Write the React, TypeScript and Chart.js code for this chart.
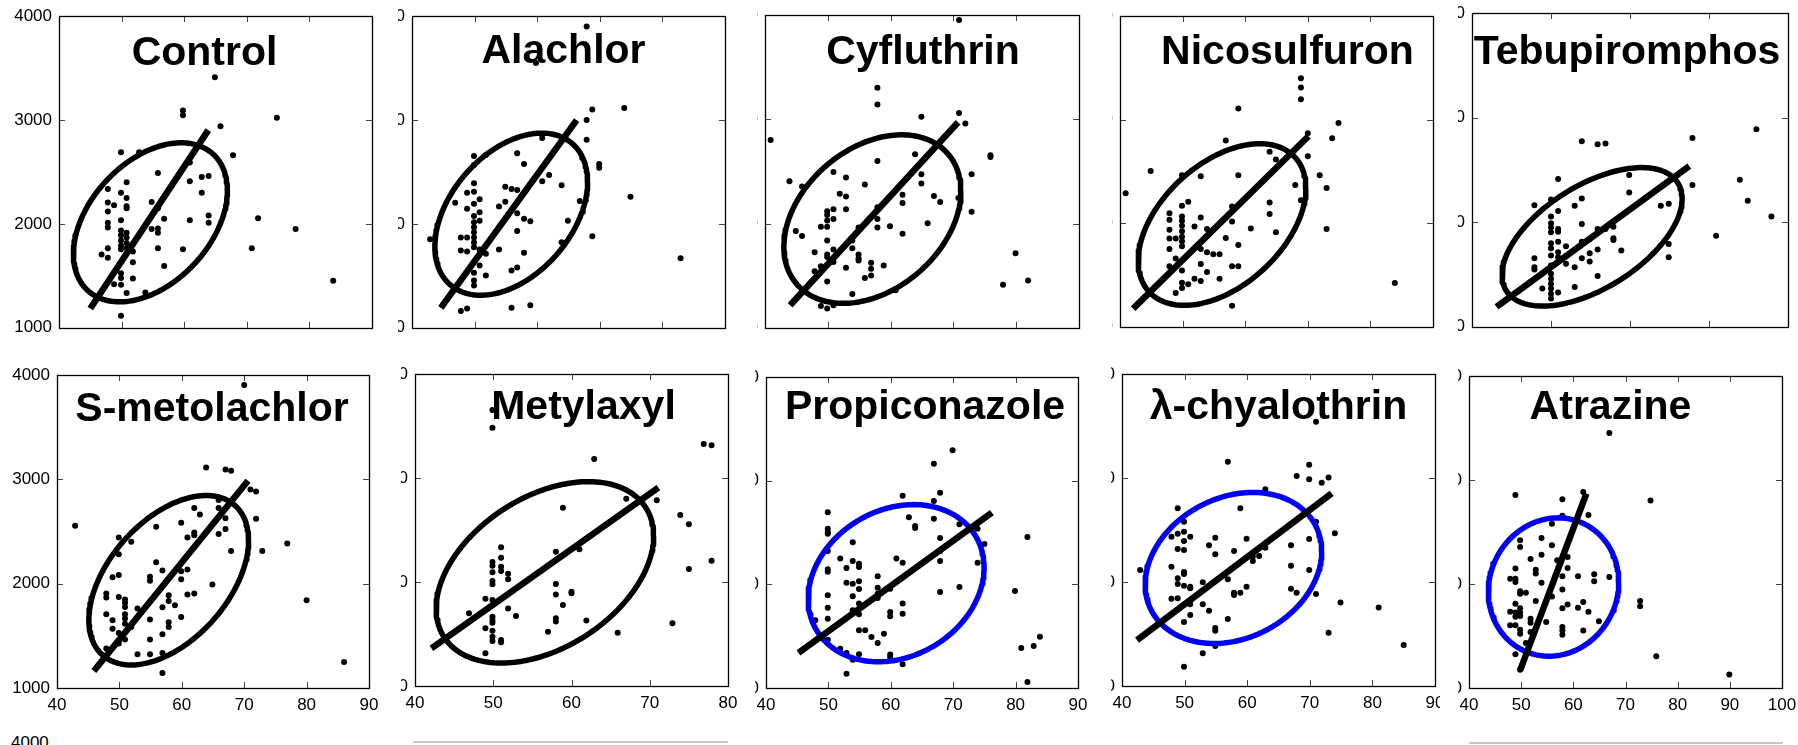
import React, { useEffect, useRef } from "react";
import { Chart, registerables } from "chart.js";
Chart.register(...registerables);

// ---------- data ----------
const titles = ["Control", "Alachlor", "Cyfluthrin", "Nicosulfuron", "Tebupiromphos", "S-metolachlor", "Metylaxyl", "Propiconazole", "\u03bb-chyalothrin", "Atrazine"];
const xMaxes = [90, 90, 90, 90, 80, 90, 80, 90, 90, 100];
const yMin = 1000;
const yMax = 4000;
const yStep = 1000;
const xMin = 40;
const xStep = 10;

const controlPts = [[64.9,3410],[59.8,3090],[59.8,3045],[65.8,2940],[74.8,3020],[49.9,2690],[52.8,2690],[67.8,2660],[60.9,2590],[55.8,2490],[62.8,2450],[63.9,2460],[60.9,2410],[50.8,2400],[47.8,2335],[62.8,2300],[49.9,2300],[50.8,2250],[47.8,2205],[48.8,2180],[54.8,2210],[50.8,2170],[50.8,2150],[55.8,2150],[47.8,2120],[63.9,2080],[56.8,2050],[60.9,2035],[49.9,2035],[63.9,2010],[47.8,2010],[47.8,1965],[54.8,1950],[55.8,1955],[55.8,1915],[49.9,1935],[49.9,1890],[49.9,1840],[49.9,1790],[49.9,1755],[50.8,1915],[50.8,1870],[50.8,1815],[50.8,1765],[51.8,1735],[47.8,1765],[55.8,1765],[59.8,1755],[70.8,1765],[71.8,2053],[77.8,1950],[46.8,1705],[47.8,1675],[51.8,1630],[56.8,1595],[49.9,1525],[49.9,1478],[48.8,1420],[49.9,1415],[51.8,1475],[50.8,1335],[53.8,1340],[49.9,1115],[83.8,1453]];
const alachlorPts = [[67.9,3898],[59.8,3547],[68.8,3100],[73.9,3116],[67.9,3000],[60.8,2825],[67.9,2810],[49.9,2653],[51.8,2663],[56.8,2679],[49.9,2566],[57.9,2576],[69.9,2576],[69.9,2541],[61.9,2470],[60.8,2410],[63.9,2372],[49.9,2390],[54.9,2358],[55.9,2336],[56.8,2326],[48.8,2300],[49.9,2310],[50.8,2238],[46.9,2203],[54.9,2213],[74.9,2260],[66.8,2219],[49.9,2194],[53.9,2168],[48.8,2146],[50.8,2111],[56.8,2101],[57.9,2050],[58.9,2024],[49.9,2075],[50.8,2031],[64.9,2031],[49.9,2015],[49.9,1967],[49.9,1919],[49.9,1868],[49.9,1820],[49.9,1775],[56.8,1932],[42.9,1852],[47.8,1868],[48.8,1868],[68.8,1881],[63.9,1823],[47.8,1743],[48.8,1734],[53.9,1753],[50.8,1753],[51.8,1712],[57.9,1721],[82.9,1670],[50.8,1600],[49.9,1530],[56.8,1581],[55.9,1552],[51.8,1504],[49.9,1456],[49.9,1408],[47.8,1162],[48.8,1185],[55.9,1194],[58.9,1217]];
const cyfluthrinPts = [[70.9,3952],[57.9,3303],[57.9,3141],[64.9,3023],[70.9,3061],[71.9,2960],[40.9,2800],[75.9,2654],[75.9,2638],[63.9,2664],[57.9,2600],[50.9,2495],[52.9,2441],[64.9,2473],[72.9,2473],[43.9,2406],[45.9,2355],[55.9,2374],[64.9,2384],[51.9,2285],[52.9,2260],[61.9,2275],[66.9,2263],[67.9,2206],[61.9,2196],[70.8,2244],[49.9,2117],[49.9,2082],[49.9,2028],[49.9,1970],[50.9,2136],[50.9,2043],[52.9,2136],[57.9,2155],[72.9,2114],[57.9,2043],[57.9,1961],[59.9,1973],[65.9,2002],[48.9,1970],[54.9,1961],[44.9,1929],[45.9,1881],[61.9,1903],[49.9,1837],[53.9,1837],[53.9,1763],[50.9,1751],[47.9,1725],[49.9,1703],[49.9,1678],[54.9,1703],[54.9,1668],[54.9,1645],[50.9,1630],[48.9,1591],[56.9,1623],[56.9,1566],[56.9,1502],[58.9,1598],[52.9,1575],[47.9,1543],[55.9,1477],[49.9,1445],[60.8,1359],[53.9,1324],[48.9,1209],[49.9,1184],[50.9,1216],[79.9,1716],[77.9,1413],[81.9,1454]];
const nicosulfuronPts = [[68.9,3399],[68.9,3309],[68.9,3197],[58.9,3108],[74.9,2967],[70.0,2868],[73.9,2820],[56.9,2798],[63.9,2689],[64.9,2615],[70.0,2647],[44.9,2503],[49.9,2462],[52.9,2452],[58.9,2462],[71.9,2462],[68.0,2369],[73.0,2340],[40.9,2289],[68.9,2222],[63.9,2199],[50.9,2206],[49.9,2168],[57.9,2161],[47.9,2097],[47.9,2034],[47.9,1936],[47.9,1853],[47.9,1752],[47.9,1585],[49.9,2065],[49.9,2024],[49.9,1976],[49.9,1922],[49.9,1870],[49.9,1826],[49.9,1778],[52.9,2055],[63.9,2088],[57.9,2017],[51.9,1969],[60.9,1950],[53.9,1944],[64.9,1912],[73.0,1944],[48.9,1853],[56.9,1856],[58.9,1790],[52.9,1752],[53.9,1720],[54.9,1700],[55.9,1700],[48.9,1659],[52.9,1605],[57.9,1585],[58.9,1585],[53.9,1528],[49.9,1544],[55.9,1464],[51.9,1464],[52.9,1442],[49.9,1426],[50.9,1410],[49.9,1375],[48.9,1327],[57.9,1202],[83.9,1422]];
const tebupiromphosPts = [[76.0,2888],[67.9,2806],[53.9,2774],[55.9,2746],[56.9,2752],[59.9,2451],[50.9,2413],[67.9,2356],[73.9,2407],[59.9,2283],[47.9,2163],[50.0,2217],[53.9,2226],[53.0,2157],[74.9,2204],[63.9,2157],[64.9,2176],[50.9,2106],[77.9,2055],[50.0,2055],[50.0,1991],[50.0,1950],[50.0,1903],[50.0,1799],[50.0,1751],[50.0,1681],[50.9,1934],[50.9,1909],[50.9,1814],[50.9,1713],[50.9,1665],[53.9,1982],[55.9,1934],[56.9,1934],[57.9,1957],[57.9,1846],[57.9,1830],[54.9,1840],[53.9,1814],[51.9,1770],[70.9,1871],[64.9,1792],[64.9,1665],[58.9,1729],[55.9,1738],[54.9,1703],[53.9,1656],[54.9,1624],[47.9,1656],[47.9,1570],[47.9,1548],[51.9,1602],[53.0,1570],[50.0,1586],[50.0,1507],[50.0,1460],[50.0,1412],[50.0,1365],[50.0,1317],[50.0,1270],[55.9,1485],[53.0,1380],[48.9,1365],[50.9,1327]];
const smetolachlorPts = [[70.0,3904],[63.9,3114],[67.0,3095],[67.9,3082],[71.0,2903],[71.9,2884],[42.9,2555],[55.9,2545],[59.9,2584],[62.0,2725],[62.9,2664],[65.9,2801],[65.9,2725],[67.0,2626],[67.0,2523],[71.9,2622],[65.9,2475],[62.0,2491],[62.0,2465],[60.9,2443],[49.9,2443],[51.9,2401],[49.9,2283],[76.9,2385],[67.9,2312],[72.9,2312],[55.9,2206],[56.9,2126],[59.9,2120],[60.9,2136],[49.9,2082],[48.9,2062],[54.9,2066],[54.9,2028],[59.9,2043],[64.9,1992],[47.9,1905],[47.9,1867],[49.9,1873],[57.9,1889],[60.9,1895],[62.0,1905],[50.9,1848],[50.9,1816],[50.9,1777],[57.9,1835],[58.9,1793],[56.9,1774],[52.9,1761],[47.9,1707],[50.9,1707],[50.9,1665],[50.9,1617],[48.9,1649],[54.9,1656],[59.9,1681],[57.9,1630],[57.9,1585],[51.9,1585],[48.9,1569],[49.9,1528],[49.9,1426],[50.9,1464],[54.9,1464],[56.9,1515],[47.9,1378],[52.9,1323],[54.9,1323],[56.9,1336],[56.9,1144],[80.0,1841],[86.0,1250]];
const metylaxylPts = [[49.9,3654],[49.9,3484],[76.9,3327],[77.9,3314],[62.9,3183],[67.0,2801],[70.9,2785],[58.9,2715],[73.9,2644],[75.0,2555],[58.0,2292],[61.0,2314],[51.0,2333],[51.0,2234],[51.0,2147],[51.0,2106],[49.9,2192],[49.9,2157],[49.9,2093],[49.9,2010],[49.9,1978],[51.9,2080],[51.9,2026],[77.9,2205],[75.0,2125],[58.0,1981],[58.0,1881],[60.0,1907],[60.0,1891],[49.0,1840],[49.9,1827],[58.9,1779],[51.9,1744],[46.9,1699],[52.9,1673],[49.9,1667],[49.9,1635],[49.9,1609],[58.0,1651],[58.0,1619],[61.9,1631],[72.9,1603],[49.0,1555],[57.0,1522],[65.9,1513],[49.9,1532],[49.9,1474],[49.9,1433],[51.0,1442],[51.0,1420],[49.0,1314]];
const propiconazolePts = [[69.9,3293],[66.9,3164],[67.9,2884],[61.9,2855],[66.9,2804],[49.9,2695],[62.9,2646],[66.9,2633],[63.9,2563],[63.9,2543],[71.0,2579],[73.9,2537],[49.9,2537],[49.9,2505],[49.9,2489],[67.9,2447],[81.9,2457],[53.9,2405],[75.0,2389],[49.9,2322],[67.9,2318],[51.9,2248],[53.9,2225],[54.9,2199],[54.9,2167],[60.9,2248],[61.9,2209],[67.9,2225],[73.9,2209],[52.9,2158],[49.9,2145],[49.9,2122],[57.9,2077],[52.9,2016],[53.9,2006],[54.9,2029],[54.9,1955],[57.9,1968],[57.9,1910],[57.9,1868],[59.9,1958],[71.0,1974],[67.9,1926],[79.9,1936],[49.9,1894],[53.9,1884],[54.9,1814],[61.9,1814],[53.9,1749],[54.9,1711],[49.9,1775],[59.9,1733],[59.9,1691],[61.9,1717],[47.9,1653],[49.9,1669],[54.9,1556],[55.9,1556],[58.9,1524],[56.9,1492],[57.9,1434],[49.9,1466],[51.9,1379],[52.9,1338],[54.9,1325],[59.9,1322],[59.9,1299],[61.9,1228],[53.9,1273],[52.9,1138],[80.9,1386],[82.9,1405],[83.9,1495],[81.9,1058]];
const lambdaPts = [[71.0,3542],[56.9,3157],[69.9,3128],[67.9,3019],[69.9,2987],[73.0,3006],[71.9,2955],[62.9,2891],[48.9,2708],[58.9,2708],[49.9,2580],[49.9,2484],[49.9,2394],[49.9,2308],[71.0,2580],[74.0,2468],[47.9,2436],[48.9,2465],[50.9,2436],[54.9,2426],[59.9,2417],[69.9,2413],[53.9,2353],[67.0,2353],[48.9,2317],[57.9,2298],[54.9,2266],[62.9,2330],[61.9,2250],[60.9,2244],[60.9,2202],[42.9,2115],[47.9,2147],[67.0,2157],[69.9,2115],[49.9,2096],[49.9,2077],[48.9,2035],[48.9,1981],[48.9,1843],[52.9,1997],[56.9,2026],[49.9,1965],[50.9,1955],[50.9,1939],[59.9,1955],[57.9,1897],[57.9,1875],[58.9,1897],[67.0,1936],[67.9,1897],[71.0,1885],[47.9,1840],[74.9,1804],[81.0,1756],[50.9,1785],[52.9,1785],[53.9,1724],[50.9,1683],[56.9,1644],[49.9,1615],[54.9,1558],[54.9,1532],[73.0,1513],[54.9,1385],[52.9,1314],[49.9,1186],[85.0,1394]];
const atrazinePts = [[66.9,3452],[48.9,2856],[57.9,2814],[61.9,2885],[74.8,2804],[62.9,2663],[57.9,2657],[55.9,2580],[49.8,2420],[49.8,2356],[53.9,2442],[55.9,2372],[53.9,2282],[58.9,2260],[51.8,2240],[56.9,2228],[58.9,2154],[48.9,2148],[52.8,2138],[52.8,2100],[64.0,2093],[64.0,2026],[57.9,2074],[57.9,1946],[60.9,2074],[66.9,2067],[47.9,2051],[48.9,2051],[48.9,2019],[53.9,2013],[49.8,1930],[50.9,1917],[49.8,1907],[55.9,1881],[52.8,1836],[61.9,1827],[48.9,1811],[58.9,1804],[72.8,1836],[72.8,1785],[60.9,1772],[57.9,1766],[49.8,1766],[49.8,1724],[49.8,1692],[47.9,1734],[48.9,1727],[48.9,1686],[62.9,1734],[51.8,1667],[51.8,1628],[54.8,1635],[64.9,1641],[47.9,1603],[48.9,1603],[49.8,1561],[49.8,1522],[57.9,1587],[57.9,1554],[57.9,1513],[61.9,1554],[51.8,1538],[50.9,1433],[48.9,1324],[49.8,1176],[75.9,1305],[89.9,1131]];

// ellipse: [centerX, centerY, halfWidth, halfHeight, correlation]
const controlEllipse = [54.6, 2015, 12.3, 765, 0.4];
const alachlorEllipse = [55.85, 2093, 12.2, 780, 0.4];
const cyfluthrinEllipse = [57.1, 2043, 14.1, 808, 0.33];
const nicosulfuronEllipse = [56.3, 1987, 13.4, 780, 0.45];
const tebupiromphosEllipse = [55.2, 1860, 11.4, 662, 0.55];
const smetolachlorEllipse = [57.9, 2033, 12.8, 812, 0.47];
const metylaxylEllipse = [56.6, 2093, 13.9, 872, 0.4];
const propiconazoleEllipse = [60.85, 2011, 14.1, 758, 0.2];
const lambdaEllipse = [57.8, 2135, 14.1, 726, 0.22];
const atrazineEllipse = [56.2, 1971, 12.5, 665, 0.07];

// regression line: [x1, y1, x2, y2]
const controlLine = [45.0, 1185, 63.85, 2902];
const alachlorLine = [44.6, 1191, 66.3, 2998];
const cyfluthrinLine = [44.0, 1216, 70.75, 2972];
const nicosulfuronLine = [42.1, 1176, 70.1, 2839];
const tebupiromphosLine = [43.1, 1190, 67.5, 2537];
const smetolachlorLine = [45.9, 1163, 70.6, 2986];
const metylaxylLine = [42.1, 1362, 71.1, 2907];
const propiconazoleLine = [45.2, 1338, 76.2, 2691];
const lambdaLine = [42.4, 1442, 73.5, 2853];
const atrazineLine = [49.8, 1170, 62.5, 2869];

const allPts = [controlPts, alachlorPts, cyfluthrinPts, nicosulfuronPts, tebupiromphosPts, smetolachlorPts, metylaxylPts, propiconazolePts, lambdaPts, atrazinePts];
const allEllipses = [controlEllipse, alachlorEllipse, cyfluthrinEllipse, nicosulfuronEllipse, tebupiromphosEllipse, smetolachlorEllipse, metylaxylEllipse, propiconazoleEllipse, lambdaEllipse, atrazineEllipse];
const allLines = [controlLine, alachlorLine, cyfluthrinLine, nicosulfuronLine, tebupiromphosLine, smetolachlorLine, metylaxylLine, propiconazoleLine, lambdaLine, atrazineLine];
const blueEllipse = [false, false, false, false, false, false, false, true, true, true];

// ---------- layout (page pixels) ----------
const boxes = [
  { L: 59, T: 16, R: 372, B: 329, vL: 0, vR: 398, dx: -11, by: 49 },
  { L: 412, T: 16, R: 725, B: 329, vL: 398, vR: 757, dx: -5, by: 47 },
  { L: 765, T: 15, R: 1079, B: 329, vL: 757, vR: 1112, dx: 1, by: 49 },
  { L: 1120, T: 16, R: 1433, B: 328, vL: 1112, vR: 1456, dx: 11, by: 48 },
  { L: 1472, T: 13, R: 1788, B: 328, vL: 1458, vR: 1798, dx: -3, by: 51 },
  { L: 57, T: 375, R: 369, B: 688, vL: 0, vR: 400, dx: -1, by: 46 },
  { L: 415, T: 374, R: 728, B: 686, vL: 401, vR: 755, dx: 12, by: 45 },
  { L: 766, T: 377, R: 1078, B: 688, vL: 755, vR: 1110, dx: 3, by: 42 },
  { L: 1122, T: 374, R: 1435, B: 686, vL: 1111, vR: 1440, dx: 0, by: 45 },
  { L: 1469, T: 376, R: 1782, B: 688, vL: 1458, vR: 1798, dx: -15, by: 43 },
];
const ROW_TOP = [0, 352];
const ROW_H = [352, 393];
const Y_W = 60;
const PAD_R = 30;
const PAD_T = 20;

const FONT = "'Liberation Sans', Arial, Helvetica, sans-serif";

function ellipsePoints(e: number[]) {
  const [cx, cy, rx, ry, rho] = e;
  const d = Math.acos(rho);
  const out: { x: number; y: number }[] = [];
  const n = 180;
  for (let i = 0; i <= n; i++) {
    const t = (i / n) * Math.PI * 2;
    out.push({ x: cx + rx * Math.cos(t), y: cy + ry * Math.cos(t - d) });
  }
  return out;
}

const framePlugin = {
  id: "framePlugin",
  beforeDatasetsDraw(chart: any) {
    const o = chart.options.plugins.framePlugin;
    const a = chart.chartArea;
    const ctx = chart.ctx;
    ctx.save();
    ctx.font = "bold 41px " + FONT;
    ctx.fillStyle = "#000";
    ctx.textAlign = "center";
    ctx.textBaseline = "alphabetic";
    ctx.fillText(o.title, (a.left + a.right) / 2 + o.dx, a.top + o.by);
    ctx.restore();
  },
  afterDatasetsDraw(chart: any) {
    const a = chart.chartArea;
    const ctx = chart.ctx;
    const xs = chart.scales.x;
    const ys = chart.scales.y;
    ctx.save();
    ctx.lineWidth = 1;
    ctx.strokeStyle = "#444";
    const tl = 6;
    xs.ticks.forEach((t: any) => {
      if (t.value <= xs.min || t.value >= xs.max) return;
      const px = Math.round(xs.getPixelForValue(t.value)) + 0.5;
      ctx.beginPath();
      ctx.moveTo(px, a.bottom);
      ctx.lineTo(px, a.bottom - tl);
      ctx.moveTo(px, a.top);
      ctx.lineTo(px, a.top + tl);
      ctx.stroke();
    });
    ys.ticks.forEach((t: any) => {
      if (t.value <= ys.min || t.value >= ys.max) return;
      const py = Math.round(ys.getPixelForValue(t.value)) + 0.5;
      ctx.beginPath();
      ctx.moveTo(a.left, py);
      ctx.lineTo(a.left + tl, py);
      ctx.moveTo(a.right, py);
      ctx.lineTo(a.right - tl, py);
      ctx.stroke();
    });
    ctx.strokeStyle = "#000";
    ctx.lineWidth = 1.3;
    ctx.strokeRect(Math.round(a.left) + 0.5, Math.round(a.top) + 0.5, Math.round(a.right - a.left), Math.round(a.bottom - a.top));
    ctx.restore();
  },
};

function Panel({ idx }: { idx: number }) {
  const ref = useRef<HTMLCanvasElement | null>(null);
  const b = boxes[idx];
  const row = idx < 5 ? 0 : 1;
  const xH = row === 1 ? 40 : 16;
  const plotW = b.R - b.L;
  const plotH = b.B - b.T;
  const cw = Y_W + plotW + PAD_R;
  const ch = PAD_T + plotH + xH;

  useEffect(() => {
    if (!ref.current) return;
    const pts = allPts[idx].map((p) => ({ x: p[0], y: p[1] }));
    const ln = allLines[idx];
    const chart = new Chart(ref.current, {
      type: "scatter",
      data: {
        datasets: [
          {
            type: "line",
            data: [{ x: ln[0], y: ln[1] }, { x: ln[2], y: ln[3] }],
            borderColor: "#000",
            borderWidth: 6.5,
            borderCapStyle: "butt",
            pointRadius: 0,
            fill: false,
            showLine: true,
            order: 0,
          } as any,
          {
            type: "line",
            data: ellipsePoints(allEllipses[idx]),
            borderColor: blueEllipse[idx] ? "#0000f5" : "#000",
            borderWidth: 5.5,
            borderJoinStyle: "round",
            pointRadius: 0,
            fill: false,
            tension: 0,
            showLine: true,
            order: 1,
          } as any,
          {
            data: pts,
            backgroundColor: "#000",
            borderWidth: 0,
            pointRadius: 3,
            order: 2,
          } as any,
        ],
      },
      options: {
        responsive: false,
        animation: false,
        events: [],
        layout: { padding: { left: 0, right: PAD_R, top: PAD_T, bottom: 0 } },
        plugins: {
          legend: { display: false },
          tooltip: { enabled: false },
          title: { display: false },
          framePlugin: { title: titles[idx], dx: b.dx, by: b.by },
        } as any,
        scales: {
          x: {
            type: "linear",
            min: xMin,
            max: xMaxes[idx],
            grid: { display: false, drawTicks: false },
            border: { display: false },
            ticks: {
              display: row === 1,
              stepSize: xStep,
              padding: 7,
              color: "#000",
              font: { family: FONT, size: 17 },
              callback: (v: any) => String(v),
              autoSkip: false,
              maxRotation: 0,
            },
            afterFit: (s: any) => {
              s.height = xH;
            },
          },
          y: {
            type: "linear",
            min: yMin,
            max: yMax,
            grid: { display: false, drawTicks: false },
            border: { display: false },
            ticks: {
              stepSize: yStep,
              padding: 7,
              color: "#000",
              font: { family: FONT, size: 17 },
              callback: (v: any) => String(v),
              autoSkip: false,
            },
            afterFit: (s: any) => {
              s.width = Y_W;
            },
          },
        } as any,
      },
      plugins: [framePlugin as any],
    });
    return () => chart.destroy();
  }, [idx]);

  return (
    <div
      style={{
        position: "absolute",
        left: b.vL,
        top: ROW_TOP[row],
        width: b.vR - b.vL,
        height: ROW_H[row],
        overflow: "hidden",
      }}
    >
      <canvas
        ref={ref}
        width={cw}
        height={ch}
        style={{
          position: "absolute",
          left: b.L - Y_W - b.vL,
          top: b.T - PAD_T - ROW_TOP[row],
          width: cw,
          height: ch,
        }}
      />
    </div>
  );
}

export default function App() {
  return (
    <div
      style={{
        position: "absolute",
        left: 0,
        top: 0,
        width: 1798,
        height: 745,
        overflow: "hidden",
        background: "#fff",
        fontFamily: FONT,
      }}
    >
      {boxes.map((_, i) => (
        <Panel key={i} idx={i} />
      ))}
      <div style={{ position: "absolute", left: 11, top: 734, fontSize: 17, lineHeight: "17px", color: "#000" }}>4000</div>
      <div style={{ position: "absolute", left: 413, top: 741, width: 315, height: 2, background: "#c8c8c8" }} />
      <div style={{ position: "absolute", left: 1469, top: 742, width: 314, height: 2, background: "#c8c8c8" }} />
    </div>
  );
}
